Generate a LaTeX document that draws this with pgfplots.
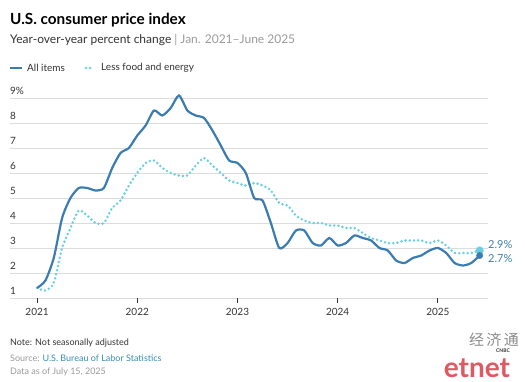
\documentclass[border=0pt]{standalone}
\usepackage{pgfplots}
\pgfplotsset{compat=1.18}
\usepackage{fontspec}
\setmainfont{Lato}
\newfontfamily\cjk{Noto Sans CJK SC}
\definecolor{allc}{HTML}{3B7DB0}
\definecolor{corec}{HTML}{6ACFE3}
\definecolor{gridc}{HTML}{DCDCDC}
\definecolor{txt}{HTML}{333333}
\definecolor{sub}{HTML}{9A9A9A}
\definecolor{src}{HTML}{3A8DB5}
\definecolor{lbl}{HTML}{3F7FAE}
\definecolor{etred}{HTML}{DC5A64}
\pgfplotstableread{
x y
2021.0000 1.4
2021.0833 1.7
2021.1667 2.6
2021.2500 4.2
2021.3333 5.0
2021.4167 5.4
2021.5000 5.4
2021.5833 5.3
2021.6667 5.4
2021.7500 6.2
2021.8333 6.8
2021.9167 7.0
2022.0000 7.5
2022.0833 7.9
2022.1667 8.5
2022.2500 8.3
2022.3333 8.6
2022.4167 9.1
2022.5000 8.5
2022.5833 8.3
2022.6667 8.2
2022.7500 7.7
2022.8333 7.1
2022.9167 6.5
2023.0000 6.4
2023.0833 6.0
2023.1667 5.0
2023.2500 4.9
2023.3333 4.0
2023.4167 3.0
2023.5000 3.2
2023.5833 3.7
2023.6667 3.7
2023.7500 3.2
2023.8333 3.1
2023.9167 3.4
2024.0000 3.1
2024.0833 3.2
2024.1667 3.5
2024.2500 3.4
2024.3333 3.3
2024.4167 3.0
2024.5000 2.9
2024.5833 2.5
2024.6667 2.4
2024.7500 2.6
2024.8333 2.7
2024.9167 2.9
2025.0000 3.0
2025.0833 2.8
2025.1667 2.4
2025.2500 2.3
2025.3333 2.4
2025.4167 2.7
}\allitems
\pgfplotstableread{
x y
2021.0000 1.4
2021.0833 1.3
2021.1667 1.6
2021.2500 3.0
2021.3333 3.8
2021.4167 4.5
2021.5000 4.3
2021.5833 4.0
2021.6667 4.0
2021.7500 4.6
2021.8333 4.9
2021.9167 5.5
2022.0000 6.0
2022.0833 6.4
2022.1667 6.5
2022.2500 6.2
2022.3333 6.0
2022.4167 5.9
2022.5000 5.9
2022.5833 6.3
2022.6667 6.6
2022.7500 6.3
2022.8333 6.0
2022.9167 5.7
2023.0000 5.6
2023.0833 5.5
2023.1667 5.6
2023.2500 5.5
2023.3333 5.3
2023.4167 4.8
2023.5000 4.7
2023.5833 4.3
2023.6667 4.1
2023.7500 4.0
2023.8333 4.0
2023.9167 3.9
2024.0000 3.9
2024.0833 3.8
2024.1667 3.8
2024.2500 3.6
2024.3333 3.4
2024.4167 3.3
2024.5000 3.2
2024.5833 3.2
2024.6667 3.3
2024.7500 3.3
2024.8333 3.3
2024.9167 3.2
2025.0000 3.3
2025.0833 3.1
2025.1667 2.8
2025.2500 2.8
2025.3333 2.8
2025.4167 2.9
}\core
\begin{document}
\begin{tikzpicture}[x=1pt,y=1pt]
\path[use as bounding box] (0,0) rectangle (525,382);
% titles
\node[anchor=west, inner sep=0pt, font=\fontsize{15.3}{17}\selectfont\bfseries, text=black] at (10,362) {U.S. consumer price index};
\node[anchor=west, inner sep=0pt, font=\fontsize{12}{14}\selectfont] at (10,342) {\textcolor{txt}{Year-over-year percent change} \textcolor{sub}{| Jan. 2021–June 2025}};
% legend
\draw[allc, line width=2.2pt] (10,314) -- (22,314);
\node[anchor=west, inner sep=0pt, font=\fontsize{10}{12}\selectfont, text=txt] at (27,314) {All items};
\draw[corec, line width=2.8pt, line cap=round, dash pattern=on 0pt off 4.2pt] (86,314) -- (94.4,314);
\node[anchor=west, inner sep=0pt, font=\fontsize{10}{12}\selectfont, text=txt] at (101,314) {Less food and energy};
\begin{axis}[
  at={(10pt,84pt)}, anchor=south west,
  scale only axis, width=478pt, height=200pt,
  xmin=2020.73, xmax=2025.5, ymin=1, ymax=9,
  clip=false,
  axis line style={draw=none},
  ymajorgrids, grid style={gridc, line width=0.8pt},
  xtick={2021,2022,2023,2024,2025},
  xticklabels={2021,2022,2023,2024,2025},
  xtick pos=bottom, xtick align=outside,
  major tick length=5pt,
  xtick style={txt, line width=0.8pt},
  ytick={1,2,3,4,5,6,7,8,9},
  yticklabels={1,2,3,4,5,6,7,8,9\%},
  ytick style={draw=none},
  tick label style={font=\fontsize{10}{12}\selectfont, text=txt},
  /pgf/number format/assume math mode=true,
  yticklabel style={anchor=south west, inner sep=0pt, xshift=0pt, yshift=3pt},
  xticklabel style={yshift=-2pt},
]
\addplot[corec, line width=2.8pt, line cap=round, dash pattern=on 0pt off 4.2pt, smooth, tension=0.4] table[x=x,y=y] {\core};
\addplot[allc, line width=2.2pt, smooth, tension=0.4] table[x=x,y=y] {\allitems};
\addplot[only marks, mark=*, mark size=3.8pt, mark options={fill=corec, draw=corec}] coordinates {(2025.4167,2.9)};
\addplot[only marks, mark=*, mark size=3.2pt, mark options={fill=allc, draw=allc}] coordinates {(2025.4167,2.7)};
\node[anchor=west, inner sep=0pt, font=\fontsize{11}{13}\selectfont, text=lbl] at (axis cs:2025.5,3.12) {2.9\%};
\node[anchor=west, inner sep=0pt, font=\fontsize{11}{13}\selectfont, text=lbl] at (axis cs:2025.5,2.56) {2.7\%};
\end{axis}
% footer
\node[anchor=west, inner sep=0pt, font=\fontsize{9}{11}\selectfont, text=txt] at (10,39) {Note: Not seasonally adjusted};
\node[anchor=west, inner sep=0pt, font=\fontsize{9}{11}\selectfont] at (10,24) {\textcolor{sub}{Source:} \textcolor{src}{U.S. Bureau of Labor Statistics}};
\node[anchor=west, inner sep=0pt, font=\fontsize{9}{11}\selectfont, text=sub] at (10,10) {Data as of July 15, 2025};
% watermark
\node[inner sep=0pt, font=\fontsize{15}{17}\selectfont\cjk, text=black!45] at (494,42) {经\,济\,通};
\node[inner sep=0pt, font=\fontsize{28}{30}\selectfont\bfseries, text=etred] at (477,14) {etnet};
\node[inner sep=0pt, font=\fontsize{5}{6}\selectfont\bfseries, text=black!80] at (503,31) {CNBC};
\end{tikzpicture}
\end{document}
